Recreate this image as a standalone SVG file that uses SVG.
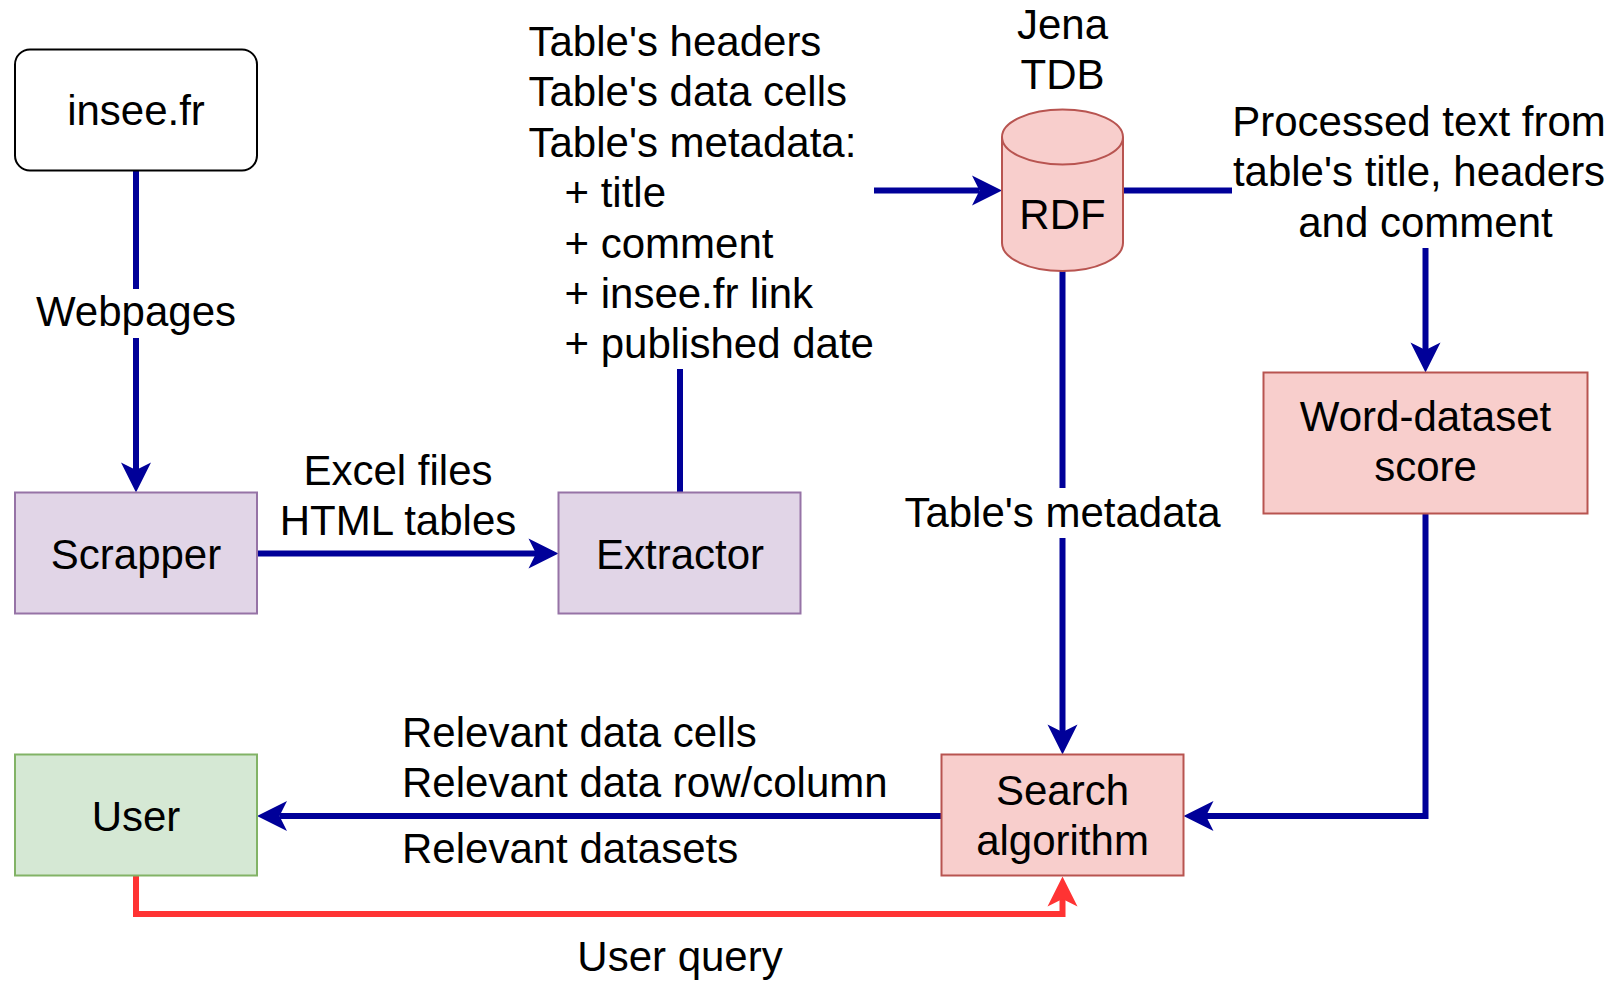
<svg xmlns="http://www.w3.org/2000/svg" width="1616" height="981" viewBox="0 0 1616 981">
  <style>
    text { font-family: "Liberation Sans", Arial, sans-serif; font-size: 42px; fill: #000000; }
    .mid { text-anchor: middle; }
    .purple { fill: #e1d5e7; stroke: #9673a6; stroke-width: 2; }
    .red { fill: #f8cecc; stroke: #b85450; stroke-width: 2; }
    .green { fill: #d5e8d4; stroke: #82b366; stroke-width: 2; }
    .plain { fill: #ffffff; stroke: #000000; stroke-width: 2; }
    .flow { fill: none; stroke: #000099; stroke-width: 6; }
    .query { fill: none; stroke: #ff3333; stroke-width: 6; }
    .labelbg { fill: #ffffff; stroke: none; }
  </style>
  <defs>
    <!-- classic arrowhead; reference point sits at the notch -->
    <marker id="arrowBlue" markerUnits="userSpaceOnUse" markerWidth="40" markerHeight="40" viewBox="-10 -20 40 40" refX="0" refY="0" orient="auto" overflow="visible">
      <path d="M22.5,0 L-7.5,-15 L0,0 L-7.5,15 Z" fill="#000099"/>
    </marker>
    <marker id="arrowRed" markerUnits="userSpaceOnUse" markerWidth="40" markerHeight="40" viewBox="-10 -20 40 40" refX="0" refY="0" orient="auto" overflow="visible">
      <path d="M22.5,0 L-7.5,-15 L0,0 L-7.5,15 Z" fill="#ff3333"/>
    </marker>
  </defs>

  <rect width="1616" height="981" fill="#ffffff"/>

  <!-- connectors -->
  <g id="connectors">
    <!-- insee.fr -> Scrapper -->
    <path class="flow" d="M136,170 L136,470" marker-end="url(#arrowBlue)"/>
    <rect class="labelbg" x="30" y="289" width="212" height="49"/>
    <text class="mid" x="136" y="326">Webpages</text>

    <!-- Scrapper -> Extractor -->
    <path class="flow" d="M257,553.5 L536,553.5" marker-end="url(#arrowBlue)"/>
    <text class="mid" x="398" y="485">Excel files</text>
    <text class="mid" x="398" y="535">HTML tables</text>

    <!-- Extractor -> RDF (through the extracted content list) -->
    <path class="flow" d="M680,492.5 L680,369"/>
    <path class="flow" d="M874,190.5 L979.5,190.5" marker-end="url(#arrowBlue)"/>
    <text x="528.5" y="56">Table's headers</text>
    <text x="528.5" y="106.4">Table's data cells</text>
    <text x="528.5" y="156.8">Table's metadata:</text>
    <text x="564.5" y="207.2">+ title</text>
    <text x="564.5" y="257.6">+ comment</text>
    <text x="564.5" y="308">+ insee.fr link</text>
    <text x="564.5" y="358.4">+ published date</text>

    <!-- RDF -> Word-dataset score -->
    <path class="flow" d="M1123,190.5 L1232,190.5"/>
    <path class="flow" d="M1425.5,248 L1425.5,350" marker-end="url(#arrowBlue)"/>
    <text class="mid" x="1419" y="135.5">Processed text from</text>
    <text class="mid" x="1419" y="186">table's title, headers</text>
    <text class="mid" x="1425.5" y="236.5">and comment</text>

    <!-- RDF -> Search algorithm -->
    <path class="flow" d="M1062.5,271 L1062.5,732" marker-end="url(#arrowBlue)"/>
    <rect class="labelbg" x="900" y="488" width="325" height="50"/>
    <text class="mid" x="1062.5" y="527">Table's metadata</text>

    <!-- Word-dataset score -> Search algorithm -->
    <path class="flow" d="M1425.5,513 L1425.5,816 L1206,816" marker-end="url(#arrowBlue)"/>

    <!-- Search algorithm -> User -->
    <path class="flow" d="M941.5,816 L279.5,816" marker-end="url(#arrowBlue)"/>
    <text x="402" y="746.5">Relevant data cells</text>
    <text x="402" y="797">Relevant data row/column</text>
    <text x="402" y="863">Relevant datasets</text>

    <!-- User -> Search algorithm -->
    <path class="query" d="M136,875.5 L136,914 L1062.5,914 L1062.5,899" marker-end="url(#arrowRed)"/>
    <text class="mid" x="680" y="971">User query</text>
  </g>

  <!-- nodes -->
  <g id="insee">
    <rect class="plain" x="15" y="49.5" width="242" height="121" rx="15" ry="15"/>
    <text class="mid" x="136" y="125">insee.fr</text>
  </g>

  <g id="scrapper">
    <rect class="purple" x="15" y="492.5" width="242" height="121"/>
    <text class="mid" x="136" y="569">Scrapper</text>
  </g>

  <g id="extractor">
    <rect class="purple" x="558.5" y="492.5" width="242" height="121"/>
    <text class="mid" x="680" y="569">Extractor</text>
  </g>

  <g id="rdf">
    <text class="mid" x="1062.5" y="38.5">Jena</text>
    <text class="mid" x="1062.5" y="89">TDB</text>
    <path class="red" d="M1002,137 A60.5,27.5 0 0 1 1123,137 L1123,243 A60.5,28 0 0 1 1002,243 Z"/>
    <path d="M1002,137 A60.5,27.5 0 0 0 1123,137" fill="none" stroke="#b85450" stroke-width="2"/>
    <text class="mid" x="1062.5" y="229">RDF</text>
  </g>

  <g id="word-dataset-score">
    <rect class="red" x="1263.5" y="372.5" width="324" height="141"/>
    <text class="mid" x="1425.5" y="431">Word-dataset</text>
    <text class="mid" x="1425.5" y="481">score</text>
  </g>

  <g id="search-algorithm">
    <rect class="red" x="941.5" y="754.5" width="242" height="121"/>
    <text class="mid" x="1062.5" y="804.5">Search</text>
    <text class="mid" x="1062.5" y="855">algorithm</text>
  </g>

  <g id="user">
    <rect class="green" x="15" y="754.5" width="242" height="121"/>
    <text class="mid" x="136" y="831">User</text>
  </g>
</svg>
